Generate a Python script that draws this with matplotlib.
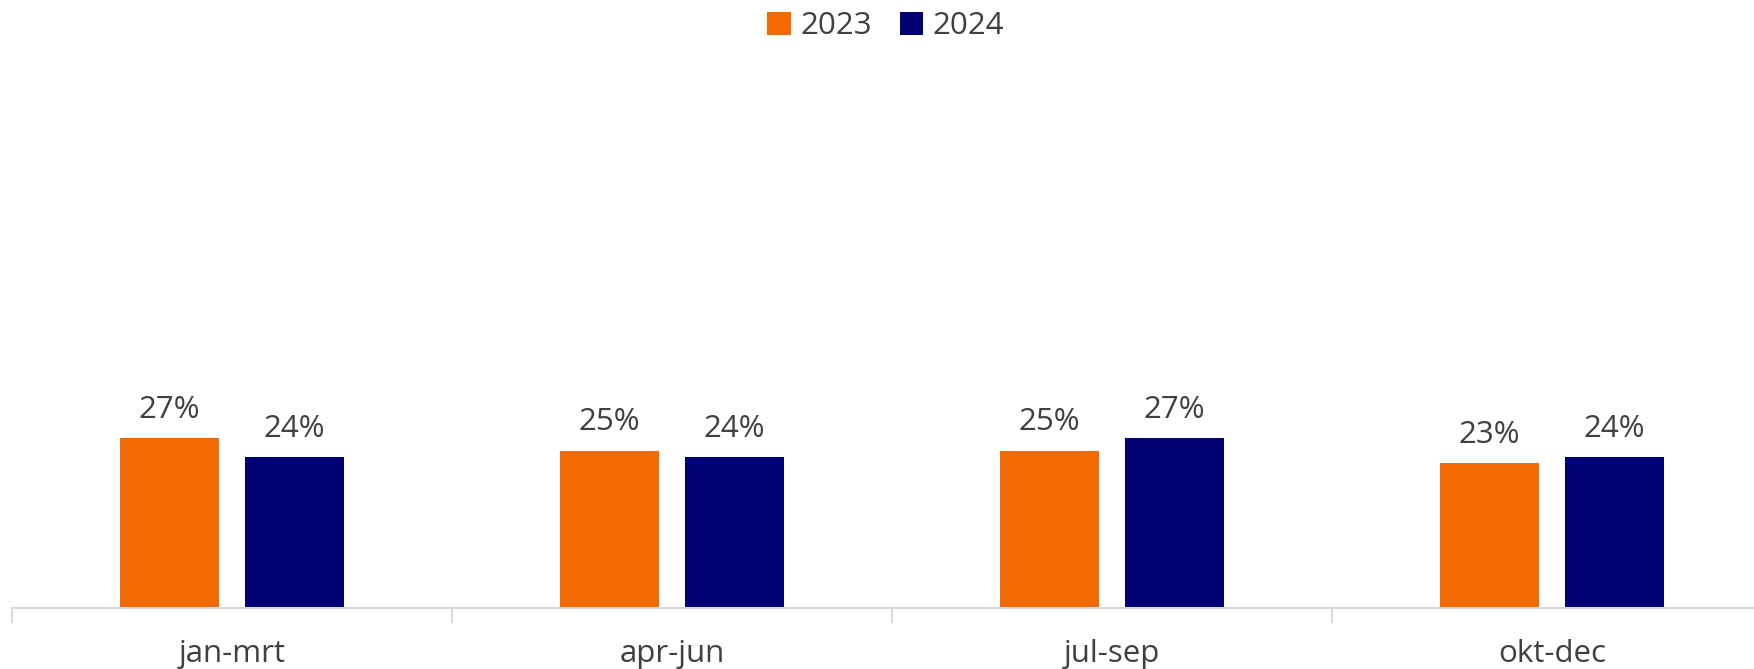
import matplotlib.pyplot as plt
import numpy as np

plt.rcParams['font.family'] = ['Open Sans', 'DejaVu Sans']

quarters = ["jan-mrt", "apr-jun", "jul-sep", "okt-dec"]
years = ["2023", "2024"]
vals_2023 = [27, 25, 25, 23]
vals_2024 = [24, 24, 27, 24]

orange = "#F26A00"
navy = "#000072"
txt = "#404040"
grid = "#D9D9D9"
fs = 22.5

W, H = 1754, 669
fig = plt.figure(figsize=(W / 100, H / 100), dpi=100)
# axes runs a bit past the right edge, as in the original
ax = fig.add_axes([12 / W, 61 / H, 1760 / W, 558 / H])

x = np.arange(len(quarters))
bw = 0.227
off = 0.142
b1 = ax.bar(x - off, vals_2023, bw, color=orange, label=years[0])
b2 = ax.bar(x + off, vals_2024, bw, color=navy, label=years[1])

for bars, vals in [(b1, vals_2023), (b2, vals_2024)]:
    for r, v in zip(bars, vals):
        ax.annotate(f"{v}%", (r.get_x() + r.get_width() / 2, v),
                    xytext=(0, 13), textcoords="offset pixels",
                    ha="center", va="bottom", fontsize=fs, color=txt)

ax.set_xlim(-0.5, len(quarters) - 0.5)
ax.set_ylim(0, 558 / 6.3)

for s in ["top", "right", "left"]:
    ax.spines[s].set_visible(False)
ax.spines["bottom"].set_color(grid)
ax.spines["bottom"].set_linewidth(1.5)
ax.set_yticks([])

ax.set_xticks(x)
ax.set_xticklabels(quarters, fontsize=fs, color=txt)
ax.tick_params(axis="x", which="major", length=0, pad=22)
ax.set_xticks(np.arange(len(quarters)) - 0.5, minor=True)
ax.tick_params(axis="x", which="minor", length=11, width=1.5, color=grid, direction="out")

fig.legend(handles=[b1, b2], labels=years, loc="upper center",
           bbox_to_anchor=(0.505, 1.025), ncol=2, frameon=False,
           fontsize=fs, labelcolor=txt, handlelength=0.75, handleheight=0.75,
           handletextpad=0.3, columnspacing=0.9)

fig.savefig("out.png", dpi=100)
